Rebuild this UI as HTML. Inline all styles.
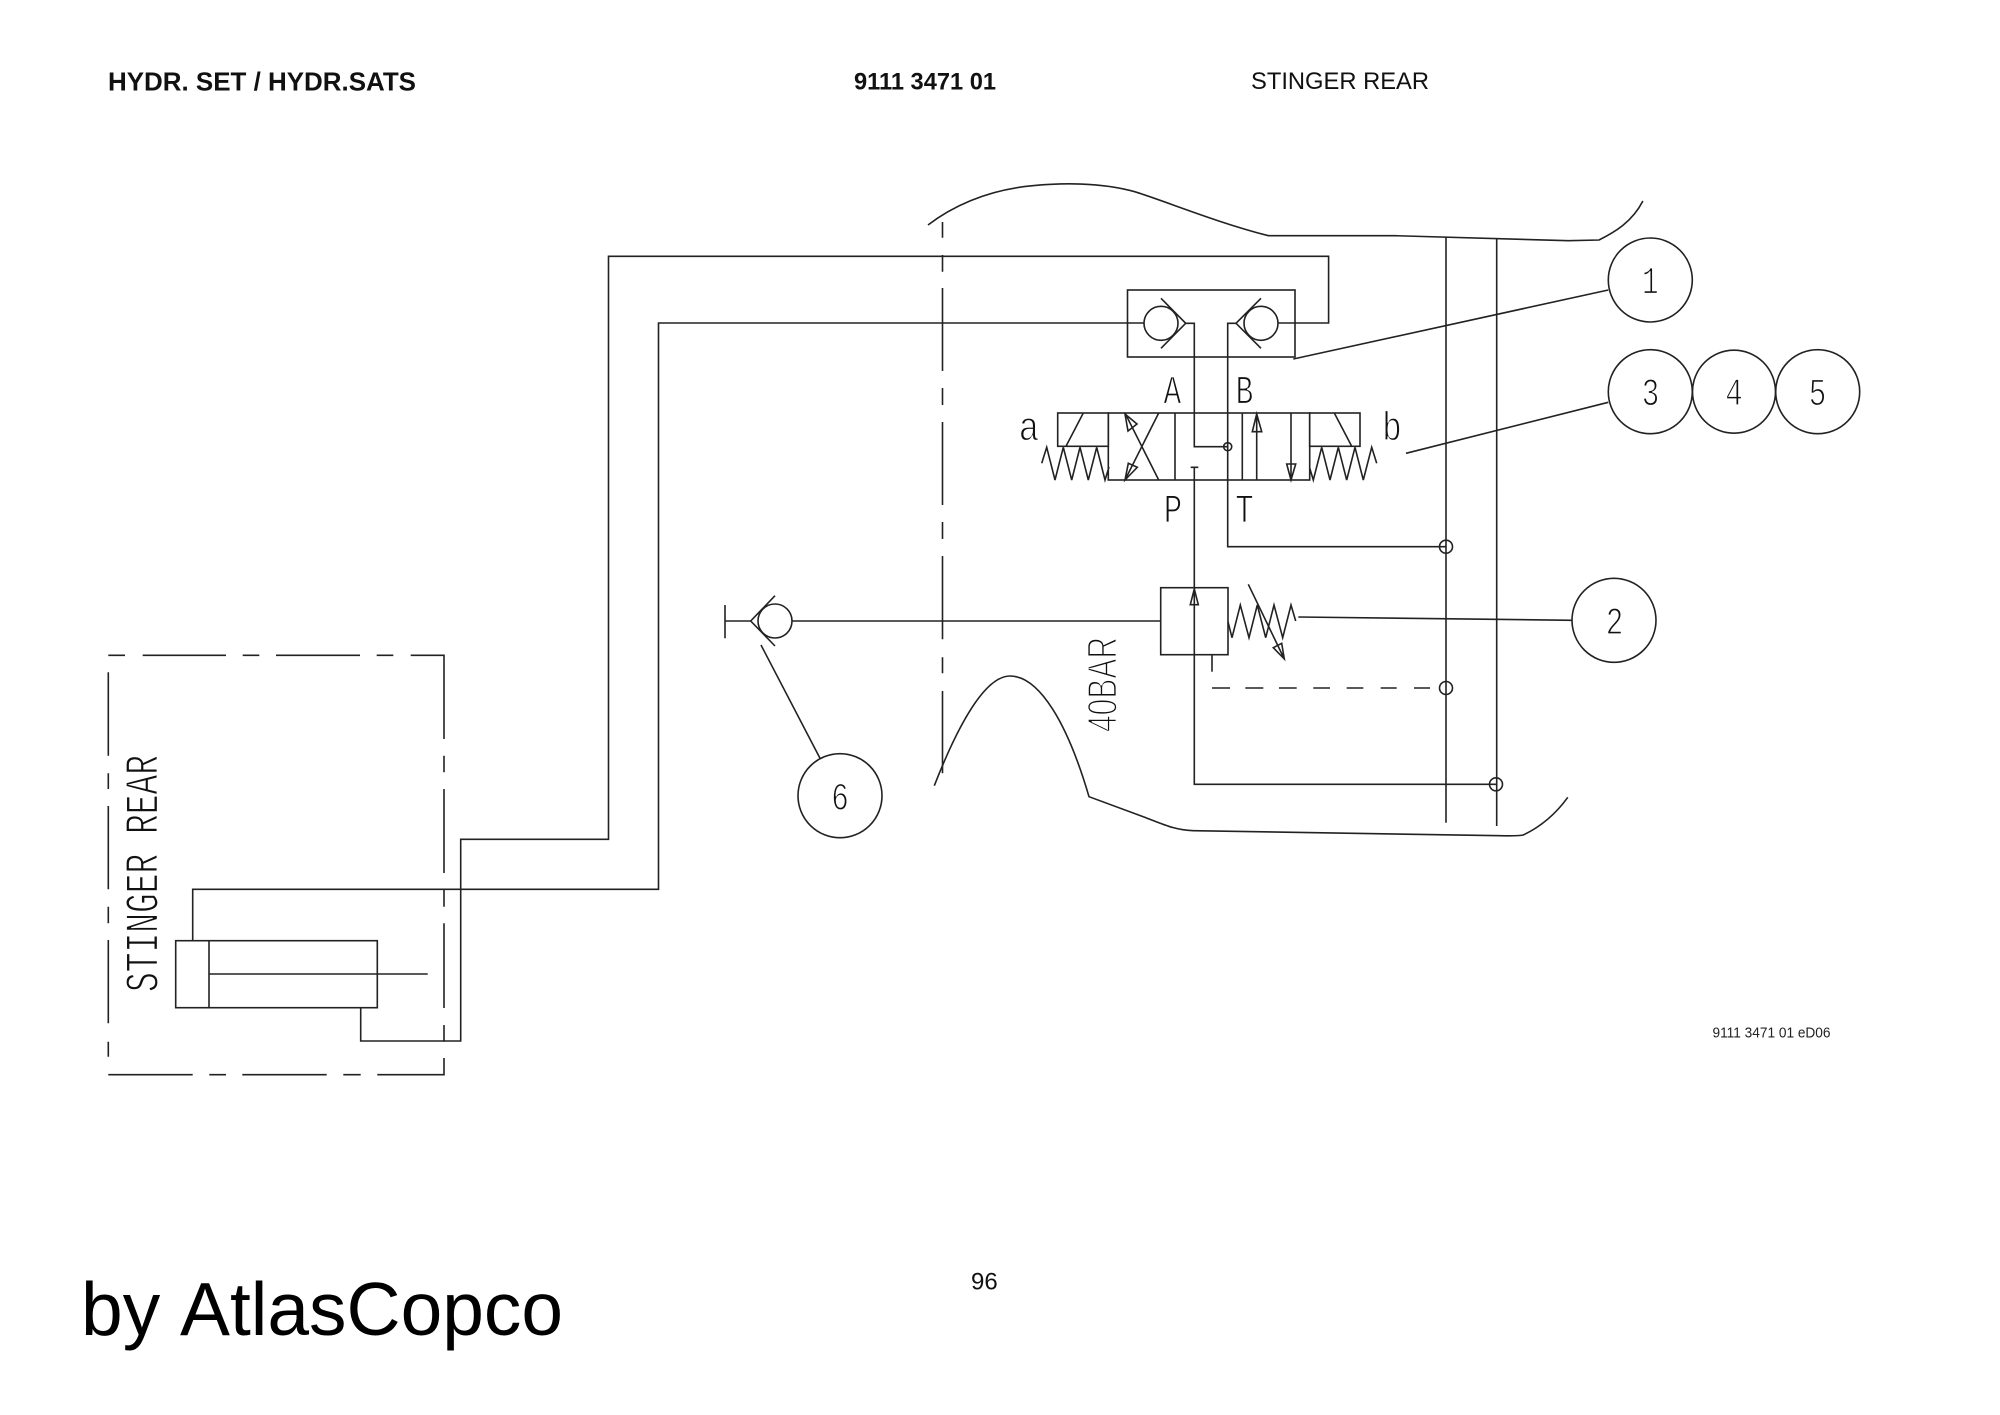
<!DOCTYPE html>
<html><head><meta charset="utf-8"><title>Hydraulic diagram</title>
<style>
html,body{margin:0;padding:0;background:#fff}
svg{display:block}
.l{fill:none;stroke:#222;stroke-width:1.6}
text{font-family:"Liberation Sans",sans-serif;fill:#111}
.c{font-family:"Liberation Mono",monospace;fill:#111;stroke:#fff;stroke-width:1.15;font-size:41px}
.s{font-family:"Liberation Sans",sans-serif;fill:#111;stroke:#fff;stroke-width:1.7}
</style></head><body>
<svg width="2000" height="1415" viewBox="0 0 2000 1415" xmlns="http://www.w3.org/2000/svg">
<text x="108" y="90.7" font-size="26" font-weight="700" textLength="308" lengthAdjust="spacingAndGlyphs">HYDR. SET / HYDR.SATS</text>
<text x="854" y="89.3" font-size="24" font-weight="700" textLength="142" lengthAdjust="spacingAndGlyphs">9111 3471 01</text>
<text x="1251" y="89" font-size="24" textLength="178" lengthAdjust="spacingAndGlyphs">STINGER REAR</text>
<text x="81" y="1335" font-size="75" style="fill:#000">by</text>
<text x="180" y="1335" font-size="75" textLength="383" lengthAdjust="spacingAndGlyphs" style="fill:#000">AtlasCopco</text>
<text x="971" y="1289.3" font-size="24">96</text>
<text x="1712.5" y="1037.7" font-size="14.5" textLength="118" lengthAdjust="spacingAndGlyphs" style="fill:#222">9111 3471 01 eD06</text>

<text class="c" transform="translate(157.7,992) rotate(-90)" style="font-size:47px;stroke-width:1.25" textLength="237" lengthAdjust="spacingAndGlyphs">STINGER REAR</text>
<text class="s" transform="translate(1116.7,732) rotate(-90)" font-size="42" textLength="95" lengthAdjust="spacingAndGlyphs">40BAR</text>

<g text-anchor="middle">
<text class="c" transform="translate(1172.3,403.3) scale(.72,1)">A</text>
<text class="c" transform="translate(1244.5,403.3) scale(.72,1)">B</text>
<text class="c" transform="translate(1029,440) scale(.85,1)">a</text>
<text class="c" transform="translate(1392,440) scale(.8,1)">b</text>
<text class="c" transform="translate(1173,522.3) scale(.75,1)">P</text>
<text class="c" transform="translate(1244.5,522.3) scale(.75,1)">T</text>
<text class="c" transform="translate(1650.3,293.3) scale(.7,1)" style="font-size:39px">1</text>
<text class="c" transform="translate(1650.5,405) scale(.75,1)" style="font-size:39px">3</text>
<text class="c" transform="translate(1734,405) scale(.75,1)" style="font-size:39px">4</text>
<text class="c" transform="translate(1817.5,405) scale(.75,1)" style="font-size:39px">5</text>
<text class="c" transform="translate(1614.5,634) scale(.75,1)" style="font-size:39px">2</text>
<text class="c" transform="translate(840,809.3) scale(.75,1)" style="font-size:39px">6</text>
</g>

<!-- machine outline -->
<path class="l" d="M928 225C950 208 985 190 1032.7 185.7C1060 183 1100 182 1134.7 191.7C1165 201 1215 222 1268.4 235.7L1394.9 235.7L1568.4 240.7L1599 240C1615 232 1632 222 1642.9 201"/>
<path class="l" d="M934.3 785.7C958 725 985 676 1010 676C1040 676 1068 725 1089 796.7L1143.3 816.7C1165 825 1175 830 1193.3 830.7L1500 835.7C1510 836 1518 836 1523.3 835C1540 827 1555 815 1567.8 797.3"/>

<!-- dash-dot vertical -->
<path class="l" d="M942.5 222V237.7M942.5 255V271.7M942.5 288V371M942.5 388V405M942.5 422V505M942.5 522V539M942.5 556V639.3M942.5 657.3V673.3M942.5 691V773.3"/>

<!-- dashed rect -->
<path class="l" d="M108.3 655.3H125M142.7 655.3H226M242.7 655.3H259.3M276 655.3H360M376.7 655.3H393.3M410.7 655.3H444V739M444 755.7V772.3M444 789V873M444 889.3V906.7M444 923.3V1008M444 1025V1041.7M444 1058V1074.7H377.3M360.7 1074.7H343.3M326.7 1074.7H242.3M226 1074.7H209.3M192.7 1074.7H108.3M108.3 1056.7V1041.7M108.3 1023.3V940M108.3 923.3V906.7M108.3 889.3V806M108.3 789V773.3M108.3 755.7V672.3"/>

<!-- cylinder -->
<rect class="l" x="175.7" y="940.7" width="201.6" height="67"/>
<path class="l" d="M209 940.7V1007.7M209 974H427.7"/>

<!-- pipes -->
<path class="l" d="M192.7 940.7V889.3H658.5V323H1144"/>
<path class="l" d="M360.7 1007.7V1041H460.7V839.3H608.5V256.3H1328.6V323H1278"/>

<!-- shuttle box -->
<rect class="l" x="1127.5" y="290" width="167.5" height="67"/>
<circle class="l" cx="1161" cy="323.3" r="17"/>
<circle class="l" cx="1261" cy="323.3" r="17"/>
<path class="l" d="M1161 298.3L1185.7 323.3L1161 348.3M1261 298.3L1236 323.3L1261 348.3"/>
<path class="l" d="M1185.7 323.3H1194.3V446.7H1227.7M1236 323.3H1227.7V546.7H1446"/>

<!-- 4/3 valve -->
<rect class="l" x="1108.3" y="413" width="201.4" height="67"/>
<rect class="l" x="1057.7" y="413" width="50.6" height="33.3"/>
<rect class="l" x="1309.7" y="413" width="50.3" height="33.3"/>
<path class="l" d="M1175 413V480M1242.3 413V480M1083.3 413L1066 446.3M1334.3 413L1351.7 446.3"/>
<path class="l" d="M1041.7 463.3L1046.7 447.3L1055 480L1063.3 447.3L1071.7 480L1080 447.3L1088.3 480L1096.7 447.3L1105 480L1109 467"/>
<path class="l" d="M1309.7 468L1313.3 480L1321.7 447.3L1330 480L1338.3 447.3L1346.7 480L1355 447.3L1363.3 480L1371.7 447.3L1376.7 463.3"/>
<path class="l" d="M1158.7 413L1125 480M1125 413L1158.7 480"/>
<path class="l" d="M1125 414L1137 424L1128 431ZM1125 480L1137.3 467.3L1128.3 463.3Z"/>
<path class="l" d="M1256.7 480V413M1256.7 414L1252.3 431.7H1261.7ZM1291 413V480M1291 480L1286.7 464H1295.7Z"/>
<path class="l" d="M1190.7 467.3H1198.3M1194.3 467.3V784.3H1496"/>

<!-- relief valve -->
<rect class="l" x="1160.7" y="587.7" width="67.3" height="67"/>
<path class="l" d="M1194.3 589L1190.3 604.7H1198.3Z"/>
<path class="l" d="M1212 654.7V671.7"/>
<path class="l" d="M1212 688H1230M1245.3 688H1263.3M1279 688H1296.7M1313.3 688H1330M1346.7 688H1363.3M1380.7 688H1396.7M1414 688H1430"/>
<path class="l" d="M1228 621.7L1232 637.7L1240.3 605L1249 637.7L1257.3 605L1265.7 637.7L1274 605L1282.7 637.7L1291 605L1295.7 621"/>
<path class="l" d="M1248.3 584.3L1284.3 659M1284.3 659L1273.3 647.7L1281.7 643.3Z"/>

<!-- drain check -->
<path class="l" d="M725 605V638.3M725 621H750.7M792 621H1160.7"/>
<circle class="l" cx="775" cy="621" r="17"/>
<path class="l" d="M775 595.7L750.7 621L775 646"/>

<!-- headers -->
<path class="l" d="M1446 237V822.7M1496.7 238V826"/>
<circle class="l" cx="1446" cy="546.7" r="6.5"/>
<circle class="l" cx="1446" cy="688" r="6.5"/>
<circle class="l" cx="1496" cy="784.3" r="6.5"/>
<circle class="l" cx="1227.7" cy="446.7" r="4"/>

<!-- leaders + balloons -->
<path class="l" d="M1293.3 359L1608.3 290M1406 453.3L1608.3 402.3M1298.3 617L1572 620.3M761 645L820 758.3"/>
<circle class="l" cx="1650.3" cy="280" r="42"/>
<circle class="l" cx="1650.3" cy="391.7" r="42"/>
<circle class="l" cx="1734" cy="391.7" r="41.5"/>
<circle class="l" cx="1817.7" cy="391.7" r="42"/>
<circle class="l" cx="1614" cy="620.3" r="42"/>
<circle class="l" cx="840" cy="795.7" r="42"/>
</svg>
</body></html>
